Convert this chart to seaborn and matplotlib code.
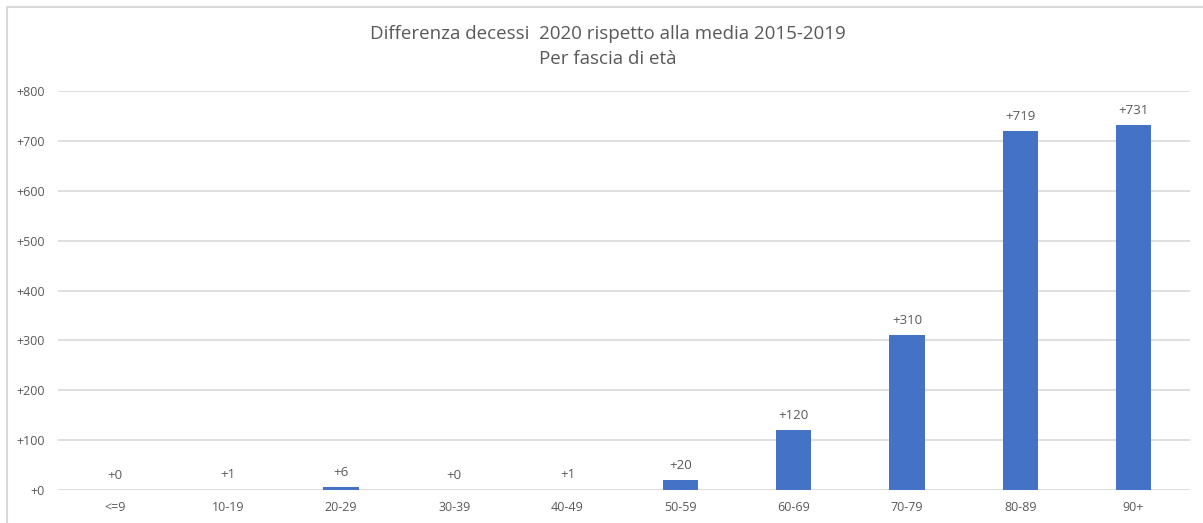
import matplotlib
matplotlib.use("Agg")
import matplotlib.pyplot as plt
import seaborn as sns
from matplotlib.lines import Line2D

categories = ["<=9", "10-19", "20-29", "30-39", "40-49", "50-59", "60-69", "70-79", "80-89", "90+"]
values = [0, 1, 6, 0, 1, 20, 120, 310, 719, 731]
yticks = [0, 100, 200, 300, 400, 500, 600, 700, 800]

title = "Differenza decessi  2020 rispetto alla media 2015-2019\nPer fascia di età"

sns.set_theme(style="white")
plt.rcParams['font.family'] = ['Open Sans', 'DejaVu Sans']

text_color = "#595959"
bar_color = "#4472C4"
grid_color = "#D9D9D9"

fig = plt.figure(figsize=(12.03, 5.23), dpi=100)
ax = fig.add_axes([58/1203, 1 - 490/523, (1190 - 58)/1203, (490 - 91)/523])

sns.barplot(x=categories, y=values, color=bar_color, width=0.31, ax=ax,
            saturation=1, edgecolor=bar_color, linewidth=0)

ax.set_ylim(0, 800)
ax.set_xlim(-0.5, len(categories) - 0.5)
ax.set_yticks(yticks)
ax.set_yticklabels([f"+{v}" for v in yticks])
ax.yaxis.grid(True, color=grid_color, linewidth=1.2)
ax.set_axisbelow(True)
for s in ax.spines.values():
    s.set_visible(False)
ax.tick_params(axis='both', length=0, labelsize=9, colors=text_color)
ax.tick_params(axis='y', pad=9.5)
ax.tick_params(axis='x', pad=8)
ax.set_xlabel("")
ax.set_ylabel("")

for c in ax.containers:
    ax.bar_label(c, labels=[f"+{v}" for v in values], padding=6, fontsize=9.5, color=text_color)

fig.text(608/1203, 1 - 46.5/523, title, ha="center", va="center", fontsize=13.5,
         color=text_color, linespacing=1.55)

# outer frame (left and top edges visible)
fig.add_artist(Line2D([6.5/1203, 6.5/1203], [0, 1 - 6.5/523], transform=fig.transFigure,
                      color="#D9D9D9", linewidth=1.5))
fig.add_artist(Line2D([6.5/1203, 1], [1 - 6.5/523, 1 - 6.5/523], transform=fig.transFigure,
                      color="#D9D9D9", linewidth=1.5))

fig.savefig("out.png", dpi=100)
